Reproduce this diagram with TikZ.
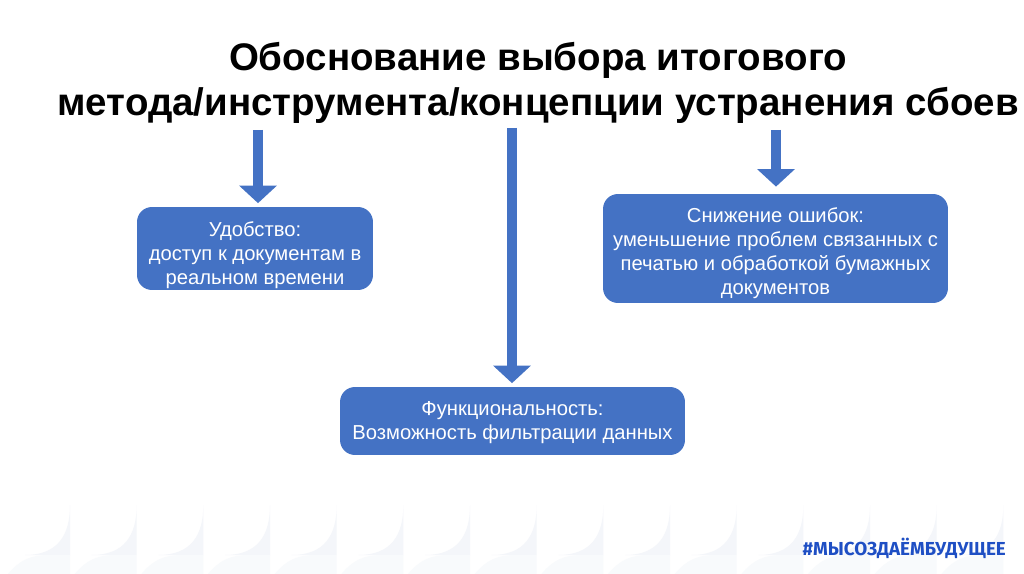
\documentclass[tikz,border=0pt]{standalone}
\usepackage{fontspec}
\setmainfont{Liberation Sans}
\newfontfamily\tagfont{Fira Sans}
\usetikzlibrary{arrows.meta}
\definecolor{boxblue}{HTML}{4472C4}
\definecolor{tagblue}{HTML}{1F4FC4}
\definecolor{tilegray}{HTML}{F4F6FA}
\begin{document}
\begin{tikzpicture}[x=0.02cm, y=-0.02cm,
    reason/.style={fill=boxblue, rounded corners=8.5pt, inner sep=0pt},
    reasontext/.style={text=white, align=center, inner sep=0pt,
        font=\fontsize{11.5}{13.6}\selectfont},
    arr/.style={draw=boxblue, line width=5.7pt,
        -{Triangle[width=21pt, length=10pt]}, shorten >=2pt}]
    \useasboundingbox (0,0) rectangle (1024,574);
    \fill[white] (0,0) rectangle (1024,574);

    % faint tiles along the bottom edge
    \foreach \k in {0,...,14} {
        \pgfmathsetmacro{\xk}{70+66.67*\k}
        \fill[tilegray] (\xk-45,555) .. controls (\xk-12,555) and (\xk,535) .. (\xk,505)
            -- (\xk,555) -- cycle;
        \fill[tilegray!60] (\xk-62,574) .. controls (\xk-50,560) and (\xk-40,555) .. (\xk-20,555)
            -- (\xk,555) -- (\xk,574) -- cycle;
    }

    \node[font=\fontsize{21.9}{25.5}\bfseries, align=center] (title) at (538,83)
        {Обоснование выбора итогового\\метода/инструмента/концепции устранения сбоев};

    \node[reason, minimum width=4.72cm, minimum height=1.66cm] (conv) at (255,248.5) {};
    \node[reason, minimum width=6.9cm, minimum height=2.18cm] (err) at (775.5,248.5) {};
    \node[reason, minimum width=6.9cm, minimum height=1.36cm] (func) at (512.5,421) {};

    \node[reasontext] (conv-t) at ([yshift=-7*0.02cm]conv.center)
        {Удобство:\\доступ к документам в\\реальном времени};
    \node[reasontext] (err-t) at ([yshift=-5*0.02cm]err.center)
        {Снижение ошибок:\\уменьшение проблем связанных с\\печатью и обработкой бумажных\\документов};
    \node[reasontext] (func-t) at ([yshift=-2*0.02cm]func.center)
        {Функциональность:\\Возможность фильтрации данных};

    \coordinate (s1) at (258,130);
    \coordinate (s2) at (512,128);
    \coordinate (s3) at (776,130);

    \draw[arr] (s1) -- (s1 |- conv.north);
    \draw[arr] (s2) -- (s2 |- func.north);
    \draw[arr, shorten >=4pt] (s3) -- (s3 |- err.north);

    \node[text=tagblue, font=\tagfont\bfseries\fontsize{10.7}{13}\selectfont, anchor=east] (tag)
        at (1012,548) {\#МЫСОЗДАЁМБУДУЩЕЕ};
\end{tikzpicture}
\end{document}
